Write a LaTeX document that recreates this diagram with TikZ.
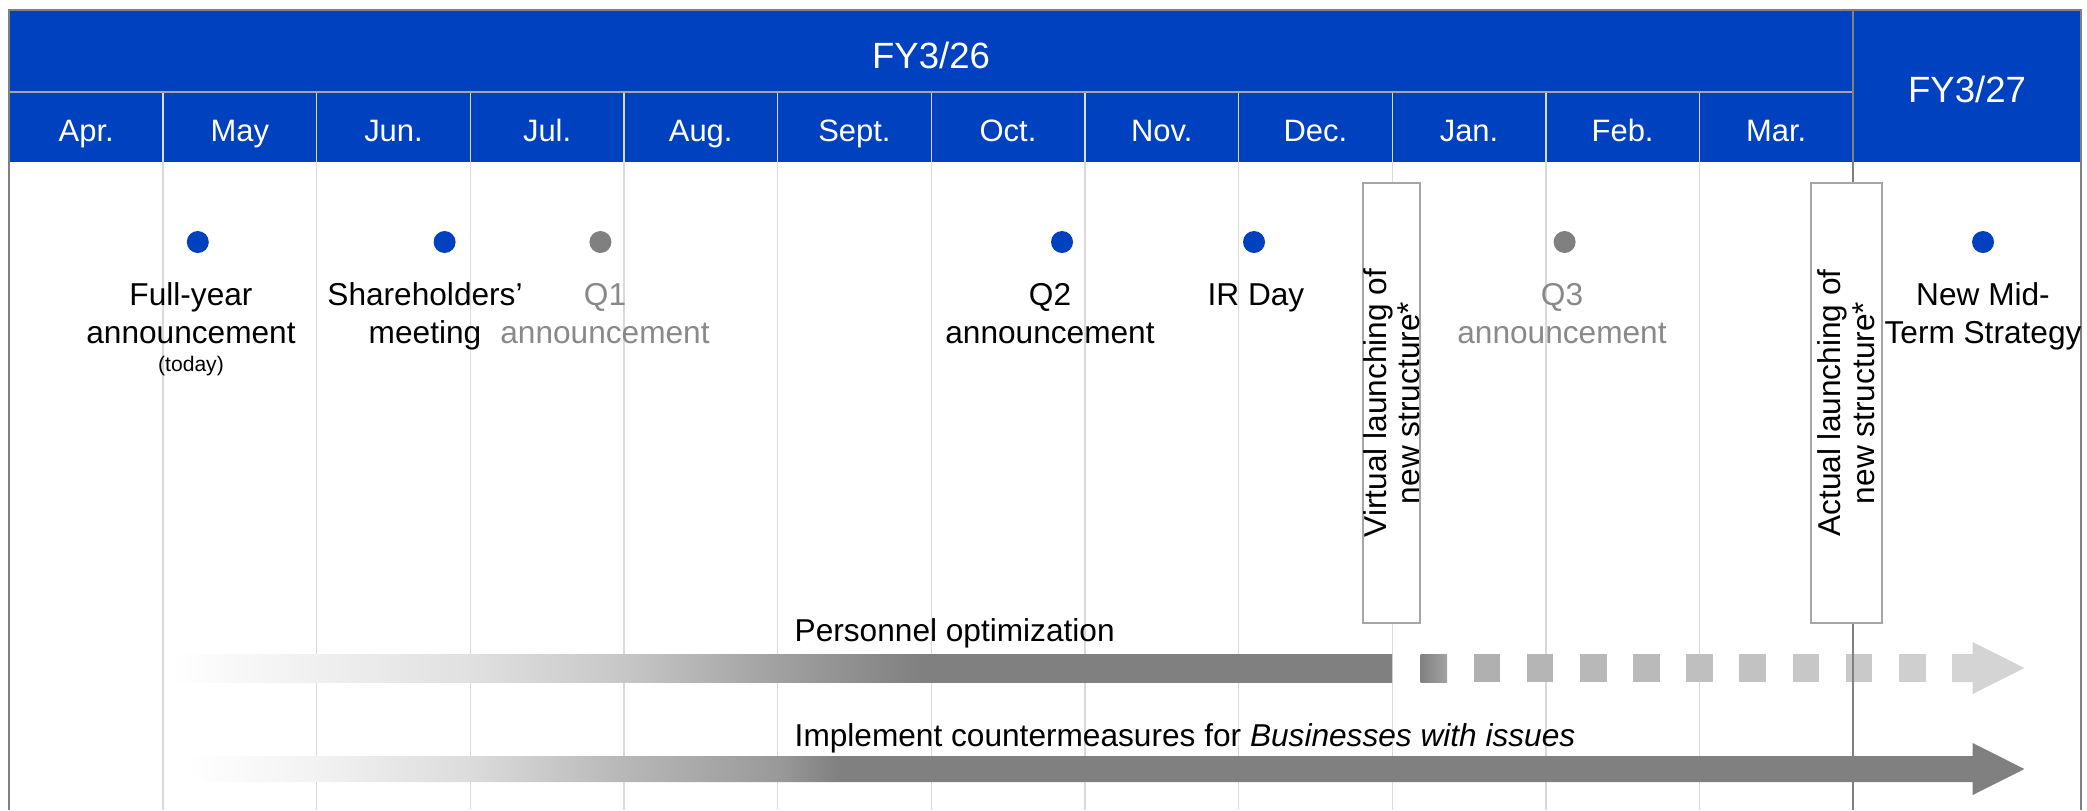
\documentclass[tikz,border=0pt]{standalone}
\usepackage{fontspec}
\setmainfont{Liberation Sans}
\usepackage{tikz}
\usepackage{xcolor}

\definecolor{hdrblue}{RGB}{0,65,192}
\definecolor{midgray}{RGB}{128,128,128}
\definecolor{textgray}{RGB}{137,137,137}
\definecolor{gridgray}{RGB}{217,217,217}
\definecolor{boxgray}{RGB}{166,166,166}

% fade-in of the two action bars
\pgfdeclarehorizontalshading{personnelfade}{100bp}{color(0bp)=(white); color(25bp)=(white);
  color(30.9bp)=(black!6); color(37.2bp)=(black!12); color(43.5bp)=(black!22);
  color(49.8bp)=(black!37); color(55.7bp)=(midgray); color(100bp)=(midgray)}
\pgfdeclarehorizontalshading{measuresfade}{100bp}{color(0bp)=(white); color(25bp)=(white);
  color(28.5bp)=(black!5); color(32.7bp)=(black!14); color(36.8bp)=(black!28);
  color(41.1bp)=(black!40); color(42.7bp)=(midgray); color(100bp)=(midgray)}

\begin{document}
\begin{tikzpicture}[
  month/.style={text=white, font=\fontsize{8.8}{10}\selectfont, anchor=base, inner sep=0pt},
  fy/.style={text=white, font=\fontsize{10.4}{12}\selectfont, anchor=base, inner sep=0pt},
  event/.style={font=\fontsize{9}{10.8}\selectfont, align=center, anchor=base, inner sep=0pt},
  dot/.style={circle, fill=hdrblue, minimum size=0.22cm, inner sep=0pt},
  launchbox/.style={draw=boxgray, line width=0.6pt, fill=white, minimum height=4.40cm, inner sep=0pt},
  launchtext/.style={rotate=90, align=center, inner sep=0pt, font=\fontsize{9}{9.5}\selectfont},
  barlabel/.style={anchor=base west, inner sep=0pt, font=\fontsize{9}{10.8}\selectfont}
]
 \useasboundingbox (0,0) rectangle (20.87,-8.10);

 % header band
 \fill[hdrblue] (0.094,-0.10) rectangle (20.81,-1.62);

 % month grid
 \draw[gridgray, line width=0.4pt] (1.630,-0.92) -- (1.630,-8.10);
 \draw[gridgray, line width=0.4pt] (3.167,-0.92) -- (3.167,-8.10);
 \draw[gridgray, line width=0.4pt] (4.703,-0.92) -- (4.703,-8.10);
 \draw[gridgray, line width=0.4pt] (6.240,-0.92) -- (6.240,-8.10);
 \draw[gridgray, line width=0.4pt] (7.776,-0.92) -- (7.776,-8.10);
 \draw[gridgray, line width=0.4pt] (9.312,-0.92) -- (9.312,-8.10);
 \draw[gridgray, line width=0.4pt] (10.849,-0.92) -- (10.849,-8.10);
 \draw[gridgray, line width=0.4pt] (12.385,-0.92) -- (12.385,-8.10);
 \draw[gridgray, line width=0.4pt] (13.922,-0.92) -- (13.922,-8.10);
 \draw[gridgray, line width=0.4pt] (15.458,-0.92) -- (15.458,-8.10);
 \draw[gridgray, line width=0.4pt] (16.994,-0.92) -- (16.994,-8.10);
 \draw[boxgray, line width=0.5pt] (0.094,-0.92) -- (18.531,-0.92);

 \node (fy26) [fy] at (9.31,-0.68) {FY3/26};
 \node (fy27) [fy] at (19.67,-1.02) {FY3/27};

 \node (apr) [month] at (0.862,-1.41) {Apr.};
 \node (may) [month] at (2.398,-1.41) {May};
 \node (jun) [month] at (3.935,-1.41) {Jun.};
 \node (jul) [month] at (5.471,-1.41) {Jul.};
 \node (aug) [month] at (7.007,-1.41) {Aug.};
 \node (sep) [month] at (8.544,-1.41) {Sept.};
 \node (oct) [month] at (10.080,-1.41) {Oct.};
 \node (nov) [month] at (11.617,-1.41) {Nov.};
 \node (dec) [month] at (13.153,-1.41) {Dec.};
 \node (jan) [month] at (14.690,-1.41) {Jan.};
 \node (feb) [month] at (16.226,-1.41) {Feb.};
 \node (mar) [month] at (17.762,-1.41) {Mar.};

 % personnel optimization
 \shade[shading=personnelfade] (1.72,-6.54) rectangle (13.92,-6.82);
 \shade[left color=midgray, right color=black!36] (14.205,-6.54) rectangle (14.471,-6.82);
 \fill[black!31] (14.737,-6.54) rectangle (15.003,-6.82);
 \fill[black!29] (15.268,-6.54) rectangle (15.534,-6.82);
 \fill[black!28] (15.800,-6.54) rectangle (16.066,-6.82);
 \fill[black!27] (16.331,-6.54) rectangle (16.597,-6.82);
 \fill[black!25] (16.863,-6.54) rectangle (17.129,-6.82);
 \fill[black!24] (17.394,-6.54) rectangle (17.660,-6.82);
 \fill[black!22] (17.926,-6.54) rectangle (18.192,-6.82);
 \fill[black!21] (18.457,-6.54) rectangle (18.723,-6.82);
 \fill[black!19] (18.989,-6.54) rectangle (19.255,-6.82);
 \fill[black!17] (19.520,-6.54) -- (19.727,-6.54) -- (19.727,-6.42) -- (20.244,-6.68)
   -- (19.727,-6.94) -- (19.727,-6.82) -- (19.520,-6.82) -- cycle;
 \node (personnel) [barlabel] at (7.94,-6.41) {Personnel optimization};

 % countermeasures
 \shade[shading=measuresfade] (1.88,-7.56) -- (19.727,-7.56) -- (19.727,-7.43) -- (20.244,-7.69)
   -- (19.727,-7.95) -- (19.727,-7.82) -- (1.88,-7.82) -- cycle;
 \node (measures) [barlabel] at (7.94,-7.46) {Implement countermeasures for \textit{Businesses with issues}};

 % fiscal year boundary and frame
 \draw[midgray, line width=0.5pt] (18.531,-0.10) -- (18.531,-8.10);
 \draw[midgray, line width=0.6pt] (0.094,-8.10) -- (0.094,-0.10) -- (20.81,-0.10) -- (20.81,-8.10);

 % new structure
 \node (virtual) [launchbox, minimum width=0.57cm] at (13.914,-4.03) {};
 \node (virtualtext) [launchtext] at (virtual.center) {Virtual launching of\\new structure*};
 \node (actual) [launchbox, minimum width=0.71cm] at (18.462,-4.03) {};
 \node (actualtext) [launchtext] at (actual.center) {Actual launching of\\new structure*};

 % events
 \node (fulldot) [dot] at (1.978,-2.42) {};
 \node (fullyear) [event] at (1.91,-3.43) {Full-year\\announcement};
 \node (today) [event, font=\fontsize{6}{7}\selectfont] at (1.91,-3.71) {(today)};
 \node (agmdot) [dot] at (4.446,-2.42) {};
 \node (agm) [event] at (4.25,-3.43) {Shareholders’\\meeting};
 \node (q1dot) [dot, fill=midgray] at (6.004,-2.42) {};
 \node (q1) [event, text=textgray] at (6.05,-3.43) {Q1\\announcement};
 \node (q2dot) [dot] at (10.62,-2.42) {};
 \node (q2) [event] at (10.50,-3.43) {Q2\\announcement};
 \node (irdot) [dot] at (12.54,-2.42) {};
 \node (irday) [event] at (12.56,-3.05) {IR Day};
 \node (q3dot) [dot, fill=midgray] at (15.646,-2.42) {};
 \node (q3) [event, text=textgray] at (15.62,-3.43) {Q3\\announcement};
 \node (strategydot) [dot] at (19.83,-2.42) {};
 \node (strategy) [event] at (19.83,-3.43) {New Mid-\\Term Strategy};
\end{tikzpicture}
\end{document}
